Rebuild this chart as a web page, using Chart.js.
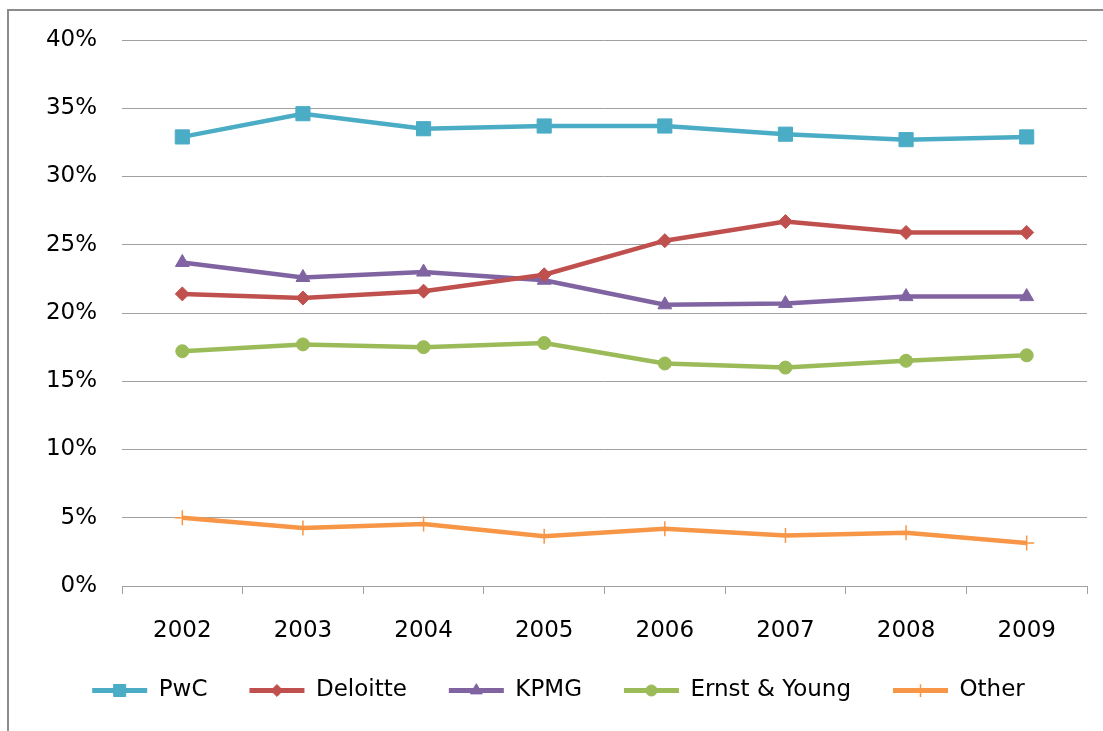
<!DOCTYPE html>
<html>
<head>
<meta charset="utf-8">
<script src="https://cdn.jsdelivr.net/npm/chart.js@4/dist/chart.umd.min.js"></script>
<style>
  html, body { margin: 0; padding: 0; background: #fff; overflow: hidden; }
  canvas { display: block; }
</style>
</head>
<body>
<canvas id="chart" width="1103" height="731"></canvas>
<script>
// market share by year (%)
const years = ["2002", "2003", "2004", "2005", "2006", "2007", "2008", "2009"];
const pwc      = [32.9, 34.6, 33.5, 33.7, 33.7, 33.1, 32.7, 32.9];
const deloitte = [21.4, 21.1, 21.6, 22.8, 25.3, 26.7, 25.9, 25.9];
const kpmg     = [23.7, 22.6, 23.0, 22.4, 20.6, 20.7, 21.2, 21.2];
const ey       = [17.2, 17.7, 17.5, 17.8, 16.3, 16.0, 16.5, 16.9];
const other    = [5.0, 4.25, 4.55, 3.65, 4.2, 3.7, 3.9, 3.15];
const yTicks   = [0, 5, 10, 15, 20, 25, 30, 35, 40];

const FONT = "'DejaVu Sans', sans-serif";

function series(label, data, color, style, radius, bw) {
  return {
    label: label,
    data: data,
    borderColor: color,
    backgroundColor: color,
    borderWidth: 4.5,
    pointStyle: style,
    pointRadius: radius,
    pointHoverRadius: radius,
    pointBackgroundColor: color,
    pointBorderColor: color,
    pointBorderWidth: bw,
    tension: 0
  };
}

// white background + the frame's left and top edges
const frame = {
  id: "frame",
  beforeDraw(chart) {
    const c = chart.ctx;
    c.save();
    c.fillStyle = "#fff";
    c.fillRect(0, 0, chart.width, chart.height);
    c.strokeStyle = "#8c8c8c";
    c.lineWidth = 2;
    c.beginPath();
    c.moveTo(8, chart.height);
    c.lineTo(8, 10);
    c.lineTo(chart.width + 2, 10);
    c.stroke();
    c.restore();
  }
};

// draws the marker in the middle of each legend line
const legendMarkers = {
  id: "legendMarkers",
  afterDraw(chart) {
    const legend = chart.legend;
    if (!legend || !legend.legendHitBoxes || !Chart.helpers || !Chart.helpers.drawPoint) return;
    const ctx = chart.ctx;
    const boxW = legend.options.labels.boxWidth;
    const fs = legend.options.labels.font.size;
    legend.legendHitBoxes.forEach((hb, i) => {
      const ds = chart.data.datasets[legend.legendItems[i].datasetIndex];
      ctx.save();
      ctx.fillStyle = ds.pointBackgroundColor;
      ctx.strokeStyle = ds.pointBorderColor;
      ctx.lineWidth = ds.pointBorderWidth;
      Chart.helpers.drawPoint(ctx, {
        pointStyle: ds.pointStyle,
        radius: ds.pointRadius * 0.85,
        rotation: 0,
        borderWidth: ds.pointBorderWidth
      }, hb.left + boxW / 2, hb.top + fs / 2);
      ctx.restore();
    });
  }
};

const ctx = document.getElementById("chart").getContext("2d");
new Chart(ctx, {
  type: "line",
  data: {
    labels: years,
    datasets: [
      series("PwC", pwc, "#4BACC6", "rect", 10, 1),
      series("Deloitte", deloitte, "#C0504D", "rectRot", 7, 1),
      series("KPMG", kpmg, "#8064A2", "triangle", 8, 1),
      series("Ernst & Young", ey, "#9BBB59", "circle", 6.5, 1),
      series("Other", other, "#F79646", "cross", 7.5, 1.5)
    ]
  },
  options: {
    responsive: false,
    animation: false,
    layout: { padding: { left: 30, right: 16, top: 40, bottom: 19 } },
    plugins: {
      tooltip: { enabled: false },
      legend: {
        position: "bottom",
        labels: {
          color: "#000",
          font: { family: FONT, size: 23 },
          boxWidth: 55,
          boxHeight: 5,
          padding: 42,
          generateLabels(chart) {
            return chart.data.datasets.map((ds, i) => ({
              text: ds.label,
              fillStyle: ds.borderColor,
              strokeStyle: ds.borderColor,
              lineWidth: 0,
              datasetIndex: i,
              hidden: false
            }));
          }
        }
      }
    },
    scales: {
      x: {
        offset: true,
        grid: { offset: true, drawOnChartArea: false, drawTicks: true, tickLength: 8, color: "#a0a0a0" },
        border: { display: true, color: "#a0a0a0" },
        ticks: { color: "#000", font: { family: FONT, size: 23 }, padding: 23 },
        afterFit(scale) { scale.height = 51; }
      },
      y: {
        min: 0,
        max: 40,
        afterBuildTicks(scale) { scale.ticks = yTicks.map(v => ({ value: v })); },
        grid: { color: "#a0a0a0", drawTicks: false, tickLength: 0 },
        border: { display: false },
        ticks: {
          color: "#000",
          font: { family: FONT, size: 23 },
          padding: 25,
          callback: v => v + "%"
        },
        afterFit(scale) { scale.width = 92; }
      }
    }
  },
  plugins: [frame, legendMarkers]
});
</script>
</body>
</html>
